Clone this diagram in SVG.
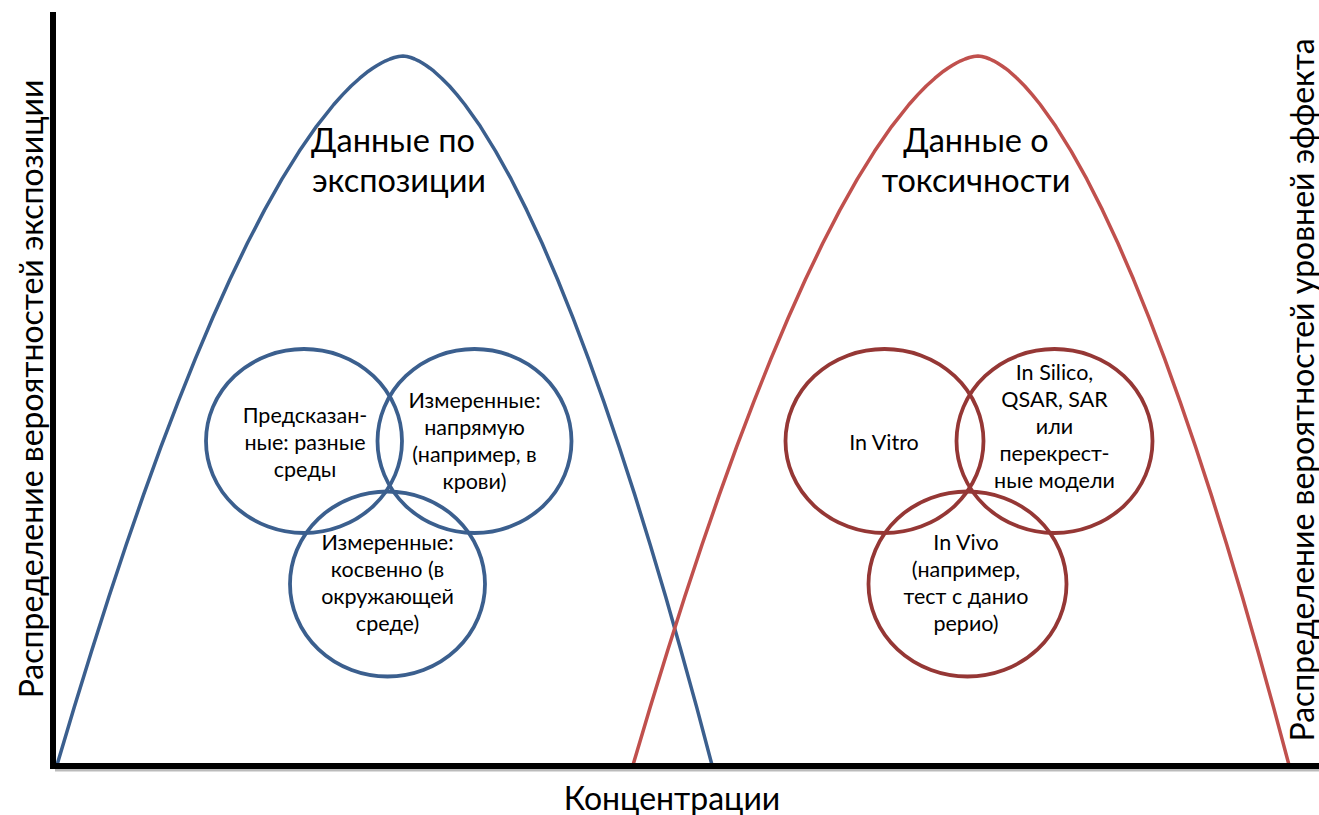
<svg xmlns="http://www.w3.org/2000/svg" width="1319" height="815" viewBox="0 0 1319 815">
<style>
.t{font-family:Lato,"Open Sans","Liberation Sans",sans-serif;fill:#000;text-anchor:middle}
.big{font-size:32.5px}
.ax{font-size:32px}
.sm{font-size:21.5px}
.curve{fill:none;stroke-width:3.5;stroke-linejoin:round}
.blue{stroke:#3B5F8E}
.red{stroke:#C0504D}
.cb{fill:none;stroke:#3B5F8E;stroke-width:3.8}
.cr{fill:none;stroke:#953735;stroke-width:3.8}
</style>
<rect width="1319" height="815" fill="#fff"/>
<g id="curves">
<polyline id="exposure-curve" class="curve blue" points="57,765 74.3,706.9 91.6,650.9 108.9,596.8 126.2,544.8 143.5,494.9 160.8,447.2 178.1,401.8 195.4,358.6 212.7,317.8 230,279.3 247.3,243.3 264.6,209.9 281.9,179.2 299.2,151.3 316.5,126.3 333.8,104.5 342.45,94.9 351.1,86 359.75,78.2 368.4,71.2 372.7,68.2 377.05,65.5 381.4,63 385.7,60.8 390,59 394.35,57.5 398.7,56.5 403,56 406.9,56.5 410.7,57.5 414.6,59 418.5,60.8 422.3,63 426.2,65.5 430,68.2 433.9,71.2 441.6,78.2 449.4,86 457.1,94.9 464.8,104.5 480.3,126.3 495.7,151.3 511.2,179.2 526.6,209.9 542.1,243.3 557.5,279.3 573,317.8 588.4,358.6 603.9,401.8 619.3,447.2 634.8,494.9 650.2,544.8 665.7,596.8 681.1,650.9 696.6,706.9 712,765"/>
<polyline id="toxicity-curve" class="curve red" points="633,765 650.25,706.9 667.5,650.9 684.75,596.8 702,544.8 719.25,494.9 736.5,447.2 753.75,401.8 771,358.6 788.25,317.8 805.5,279.3 822.75,243.3 840,209.9 857.25,179.2 874.5,151.3 891.75,126.3 909,104.5 917.6,94.9 926.25,86 934.9,78.2 943.5,71.2 947.8,68.2 952.1,65.5 956.4,63 960.75,60.8 965.1,59 969.4,57.5 973.7,56.5 978,56 981.9,56.5 985.8,57.5 989.7,59 993.55,60.8 997.4,63 1001.3,65.5 1005.2,68.2 1009.1,71.2 1016.9,78.2 1024.65,86 1032.4,94.9 1040.2,104.5 1055.75,126.3 1071.3,151.3 1086.85,179.2 1102.4,209.9 1117.95,243.3 1133.5,279.3 1149.05,317.8 1164.6,358.6 1180.15,401.8 1195.7,447.2 1211.25,494.9 1226.8,544.8 1242.35,596.8 1257.9,650.9 1273.45,706.9 1289,765"/>
</g>
<g id="axes">
<line x1="55" y1="770" x2="1319" y2="770" stroke="#bbb" stroke-width="3"/>
<line x1="53" y1="12" x2="53" y2="768" stroke="#000" stroke-width="6"/>
<line x1="50" y1="766" x2="1319" y2="766" stroke="#000" stroke-width="6"/>
</g>
<g id="title-exposure">
<text class="t big" x="393" y="152">Данные по</text>
<text class="t big" x="399" y="192">экспозиции</text>
</g>
<g id="title-toxicity">
<text class="t big" x="976" y="152">Данные о</text>
<text class="t big" x="976" y="192">токсичности</text>
</g>
<g id="node-predicted">
<ellipse class="cb" cx="304" cy="441" rx="98" ry="92"/>
<text class="t sm" x="305" y="423">Предсказан-</text>
<text class="t sm" x="305" y="450">ные: разные</text>
<text class="t sm" x="305" y="477">среды</text>
</g>
<g id="node-measured-direct">
<ellipse class="cb" cx="474.5" cy="441" rx="97" ry="92"/>
<text class="t sm" x="474.5" y="408">Измеренные:</text>
<text class="t sm" x="474.5" y="435">напрямую</text>
<text class="t sm" x="474.5" y="462">(например, в</text>
<text class="t sm" x="474.5" y="489">крови)</text>
</g>
<g id="node-measured-indirect">
<ellipse class="cb" cx="387.5" cy="584" rx="97.5" ry="92.5"/>
<text class="t sm" x="387.5" y="550">Измеренные:</text>
<text class="t sm" x="387.5" y="577">косвенно (в</text>
<text class="t sm" x="387.5" y="604">окружающей</text>
<text class="t sm" x="387.5" y="631">среде)</text>
</g>
<g id="node-in-vitro">
<ellipse class="cr" cx="884.5" cy="441" rx="99" ry="92"/>
<text class="t sm" x="884" y="450">In Vitro</text>
</g>
<g id="node-in-silico">
<ellipse class="cr" cx="1054.5" cy="441" rx="98" ry="92"/>
<text class="t sm" x="1054.5" y="380">In Silico,</text>
<text class="t sm" x="1054.5" y="407">QSAR, SAR</text>
<text class="t sm" x="1054.5" y="434">или</text>
<text class="t sm" x="1054.5" y="461">перекрест-</text>
<text class="t sm" x="1054.5" y="488">ные модели</text>
</g>
<g id="node-in-vivo">
<ellipse class="cr" cx="967.5" cy="584" rx="99" ry="92.5"/>
<text class="t sm" x="966" y="550">In Vivo</text>
<text class="t sm" x="966" y="577">(например,</text>
<text class="t sm" x="966" y="604">тест с данио</text>
<text class="t sm" x="966" y="631">рерио)</text>
</g>
<g id="axis-labels">
<text class="t ax" transform="translate(43,389) rotate(-90)">Распределение вероятностей экспозиции</text>
<text class="t ax" transform="translate(1314,390) rotate(-90)">Распределение вероятностей уровней эффекта</text>
<text class="t ax" x="672" y="810">Концентрации</text>
</g>
</svg>
